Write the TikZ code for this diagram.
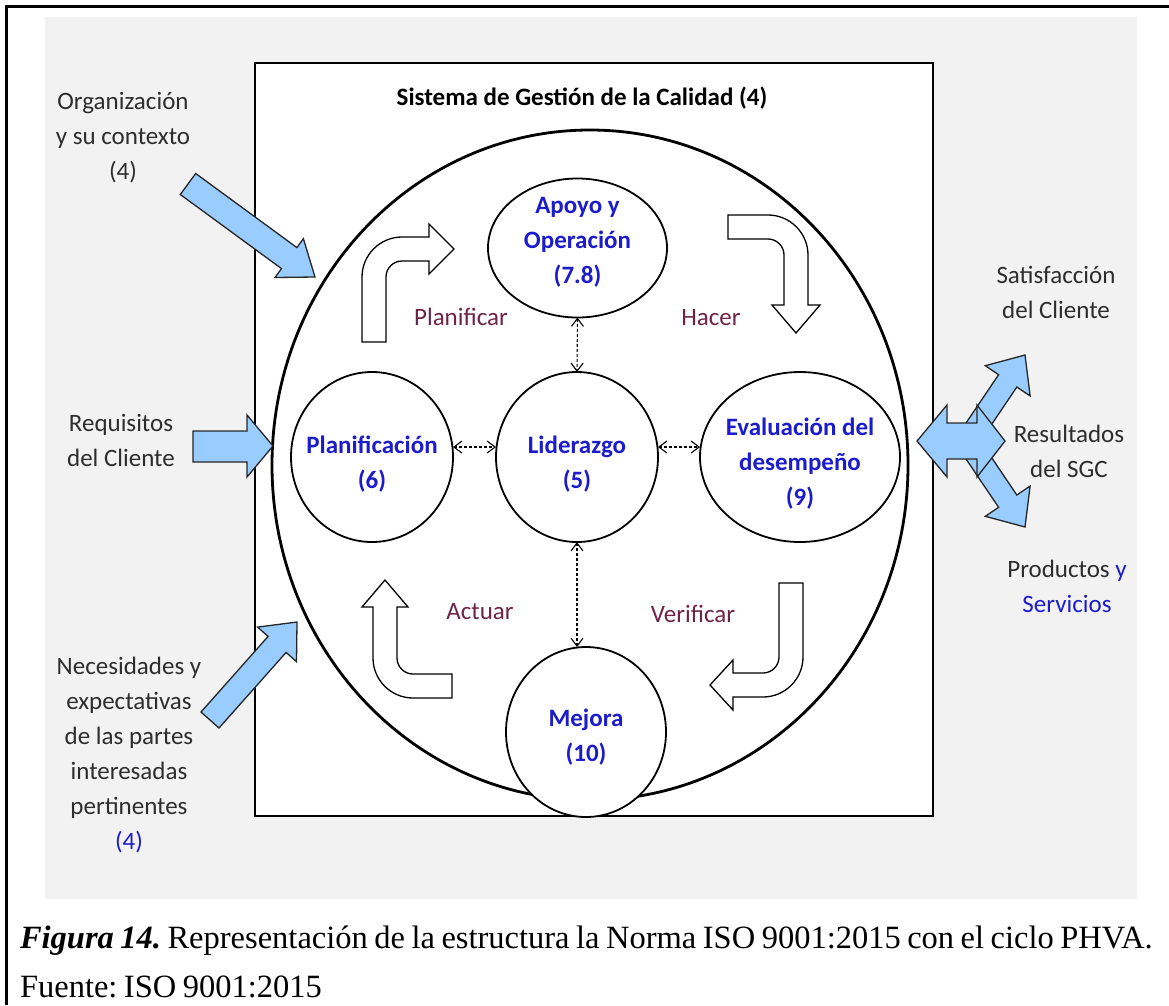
\documentclass[tikz,border=0pt]{standalone}
\usepackage{fontspec}
\setmainfont{Carlito}
\newfontfamily\capfont{Liberation Serif}
\usetikzlibrary{shapes.geometric,arrows.meta}

\definecolor{panelgray}{RGB}{242,242,242}
\definecolor{inblue}{RGB}{153,204,255}
\definecolor{lblblue}{RGB}{28,28,205}
\definecolor{phva}{RGB}{110,36,70}
\definecolor{txtgray}{RGB}{45,45,45}

% caption set in a serif with tighter interword spacing
\newcommand\captionsetup{\capfont\fontsize{32.5}{40}\selectfont\frenchspacing\spaceskip=0.2em\relax}

\begin{document}
\begin{tikzpicture}[x=1pt,y=-1pt,
  every node/.style={inner sep=0pt, outer sep=0pt},
  clause/.style={draw, line width=1.8pt, ellipse, fill=white},
  clausetxt/.style={align=center, text=lblblue, font=\fontsize{25}{35}\selectfont\bfseries},
  sidetxt/.style={align=center, text=txtgray, font=\fontsize{25}{35}\selectfont},
  phvatxt/.style={text=phva, font=\fontsize{25}{30}\selectfont},
  captxt/.style={anchor=base west},
  cyclearrow/.style={draw=black, line width=1.3pt, fill=white, line join=miter},
  inarrow/.style={draw=black!85, line width=1.3pt, fill=inblue, line join=miter},
  link/.style={densely dashed, line width=1.1pt,
    {Straight Barb[length=8pt,width=12pt]}-{Straight Barb[length=8pt,width=12pt]}}
]
\useasboundingbox (0,0) rectangle (1169,1005);
\fill[white] (0,0) rectangle (1169,1005);

% frame and background panel
\draw[line width=3pt] (6.5,1005) -- (6.5,6) -- (1169,6);
\fill[panelgray] (45,17) rectangle (1137,899);
\draw[line width=2pt, fill=white] (255,63) rectangle (933,816);

% quality management system
\node[draw, line width=2.8pt, ellipse, minimum width=636pt, minimum height=670pt] (sgc) at (590,465) {};
\node[font=\fontsize{25}{30}\selectfont\bfseries] (title) at (582,98) {Sistema de Gestión de la Calidad (4)};

% clauses
\node[clause, minimum width=179pt, minimum height=139pt] (apo) at (577.5,248) {};
\node[clause, minimum width=162pt, minimum height=170pt] (pla) at (372,457) {};
\node[clause, minimum width=162pt, minimum height=170pt] (lid) at (577,457) {};
\node[clause, minimum width=200pt, minimum height=170pt] (eva) at (800,457) {};
\node[clause, minimum width=160pt, minimum height=170pt] (mej) at (586,732) {};

\node[clausetxt] (apoT) at ([yshift=6pt]apo.center) {Apoyo y\\Operación\\(7.8)};
\node[clausetxt] (plaT) at ([yshift=-7pt]pla.center) {Planificación\\(6)};
\node[clausetxt] (lidT) at ([yshift=-7pt]lid.center) {Liderazgo\\(5)};
\node[clausetxt] (evaT) at ([yshift=-7pt]eva.center) {Evaluación del\\desempeño\\(9)};
\node[clausetxt] (mejT) at ([yshift=-5pt]mej.center) {Mejora\\(10)};

% links to leadership
\draw[link] (apo.south) -- (lid.north);
\draw[link] ([yshift=10pt]pla.east) -- ([yshift=10pt]lid.west);
\draw[link] ([yshift=10pt]lid.east) -- ([yshift=10pt]eva.west);
\draw[link] (lid.south) -- (lid.south |- mej.north);

% PHVA cycle arrows
\draw[cyclearrow] (362,342) -- (362,277) .. controls (362,255) and (380,237) .. (402,237)
  -- (429,237) -- (429,224) -- (454,249) -- (429,274) -- (429,261) -- (402,261)
  .. controls (393.2,261) and (386,268.2) .. (386,277) -- (386,342) -- cycle;
\draw[cyclearrow] (728,215) -- (768,215) .. controls (790,215) and (808,233) .. (808,255)
  -- (808,305) -- (820,305) -- (796,333) -- (772,305) -- (784,305) -- (784,255)
  .. controls (784,246.2) and (776.8,239) .. (768,239) -- (728,239) -- cycle;
\draw[cyclearrow] (452,698) -- (413,698) .. controls (391,698) and (373,680) .. (373,658)
  -- (373,607) -- (362,607) -- (385,580) -- (408,607) -- (397,607) -- (397,658)
  .. controls (397,666.8) and (404.2,674) .. (413,674) -- (452,674) -- cycle;
\draw[cyclearrow] (779,583) -- (803,583) -- (803,657) .. controls (803,679) and (785,697) .. (763,697)
  -- (733,697) -- (733,710) -- (710,685) -- (733,660) -- (733,673) -- (763,673)
  .. controls (771.8,673) and (779,665.8) .. (779,657) -- cycle;

\node[phvatxt] (tplan) at (461,317) {Planificar};
\node[phvatxt] (thac) at (711,318) {Hacer};
\node[phvatxt] (tact) at (480,612) {Actuar};
\node[phvatxt] (tver) at (693,614) {Verificar};

% inputs
\node[sidetxt] (org) at (123,138) {Organización\\y su contexto\\(4)};
\node[sidetxt] (req) at (121,440) {Requisitos\\del Cliente};
\node[sidetxt] (nec) at (129,755) {Necesidades y\\expectativas\\de las partes\\interesadas\\pertinentes\\\textcolor{lblblue}{(4)}};

\draw[inarrow] (195.7,173.5) -- (296.9,247.6) -- (303.4,238.7) -- (315,277) -- (275.0,277.5)
  -- (281.5,268.6) -- (180.3,194.5) -- cycle;
\draw[inarrow] (193,431) -- (247,431) -- (247,415) -- (273,446) -- (247,477) -- (247,462) -- (193,462) -- cycle;
\draw[inarrow] (201,712) -- (268.1,636.4) -- (257.6,627.1) -- (297,622) -- (296.5,661.7)
  -- (286.1,652.4) -- (219,728) -- cycle;

% outputs
\draw[inarrow] (960.0,431.9) -- (998.6,374.7) -- (985.3,365.7) -- (1025,355) -- (1030.1,395.9)
  -- (1016.8,387.0) -- (978.2,444.3) -- cycle;
\draw[inarrow] (960.0,450.1) -- (998.6,507.3) -- (985.3,516.3) -- (1025,527) -- (1030.1,486.1)
  -- (1016.8,495.0) -- (978.2,437.7) -- cycle;
\draw[inarrow] (917,441) -- (947,405) -- (947,423) -- (977,423) -- (977,405) -- (1005,441)
  -- (977,477) -- (977,459) -- (947,459) -- (947,477) -- cycle;

\node[sidetxt] (sat) at (1056,292) {Satisfacción\\del Cliente};
\node[sidetxt] (res) at (1069,451) {Resultados\\del SGC};
\node[sidetxt] (prod) at (1067,586) {Productos \textcolor{lblblue}{y}\\\textcolor{lblblue}{Servicios}};

% caption
\node[captxt] (cap) at (20,948)
  {\captionsetup\textbf{\textit{Figura 14.}} Representación de la estructura la Norma ISO 9001:2015 con el ciclo PHVA.};
\node[captxt] (src) at (20,997) {\captionsetup Fuente: ISO 9001:2015};
\end{tikzpicture}
\end{document}
